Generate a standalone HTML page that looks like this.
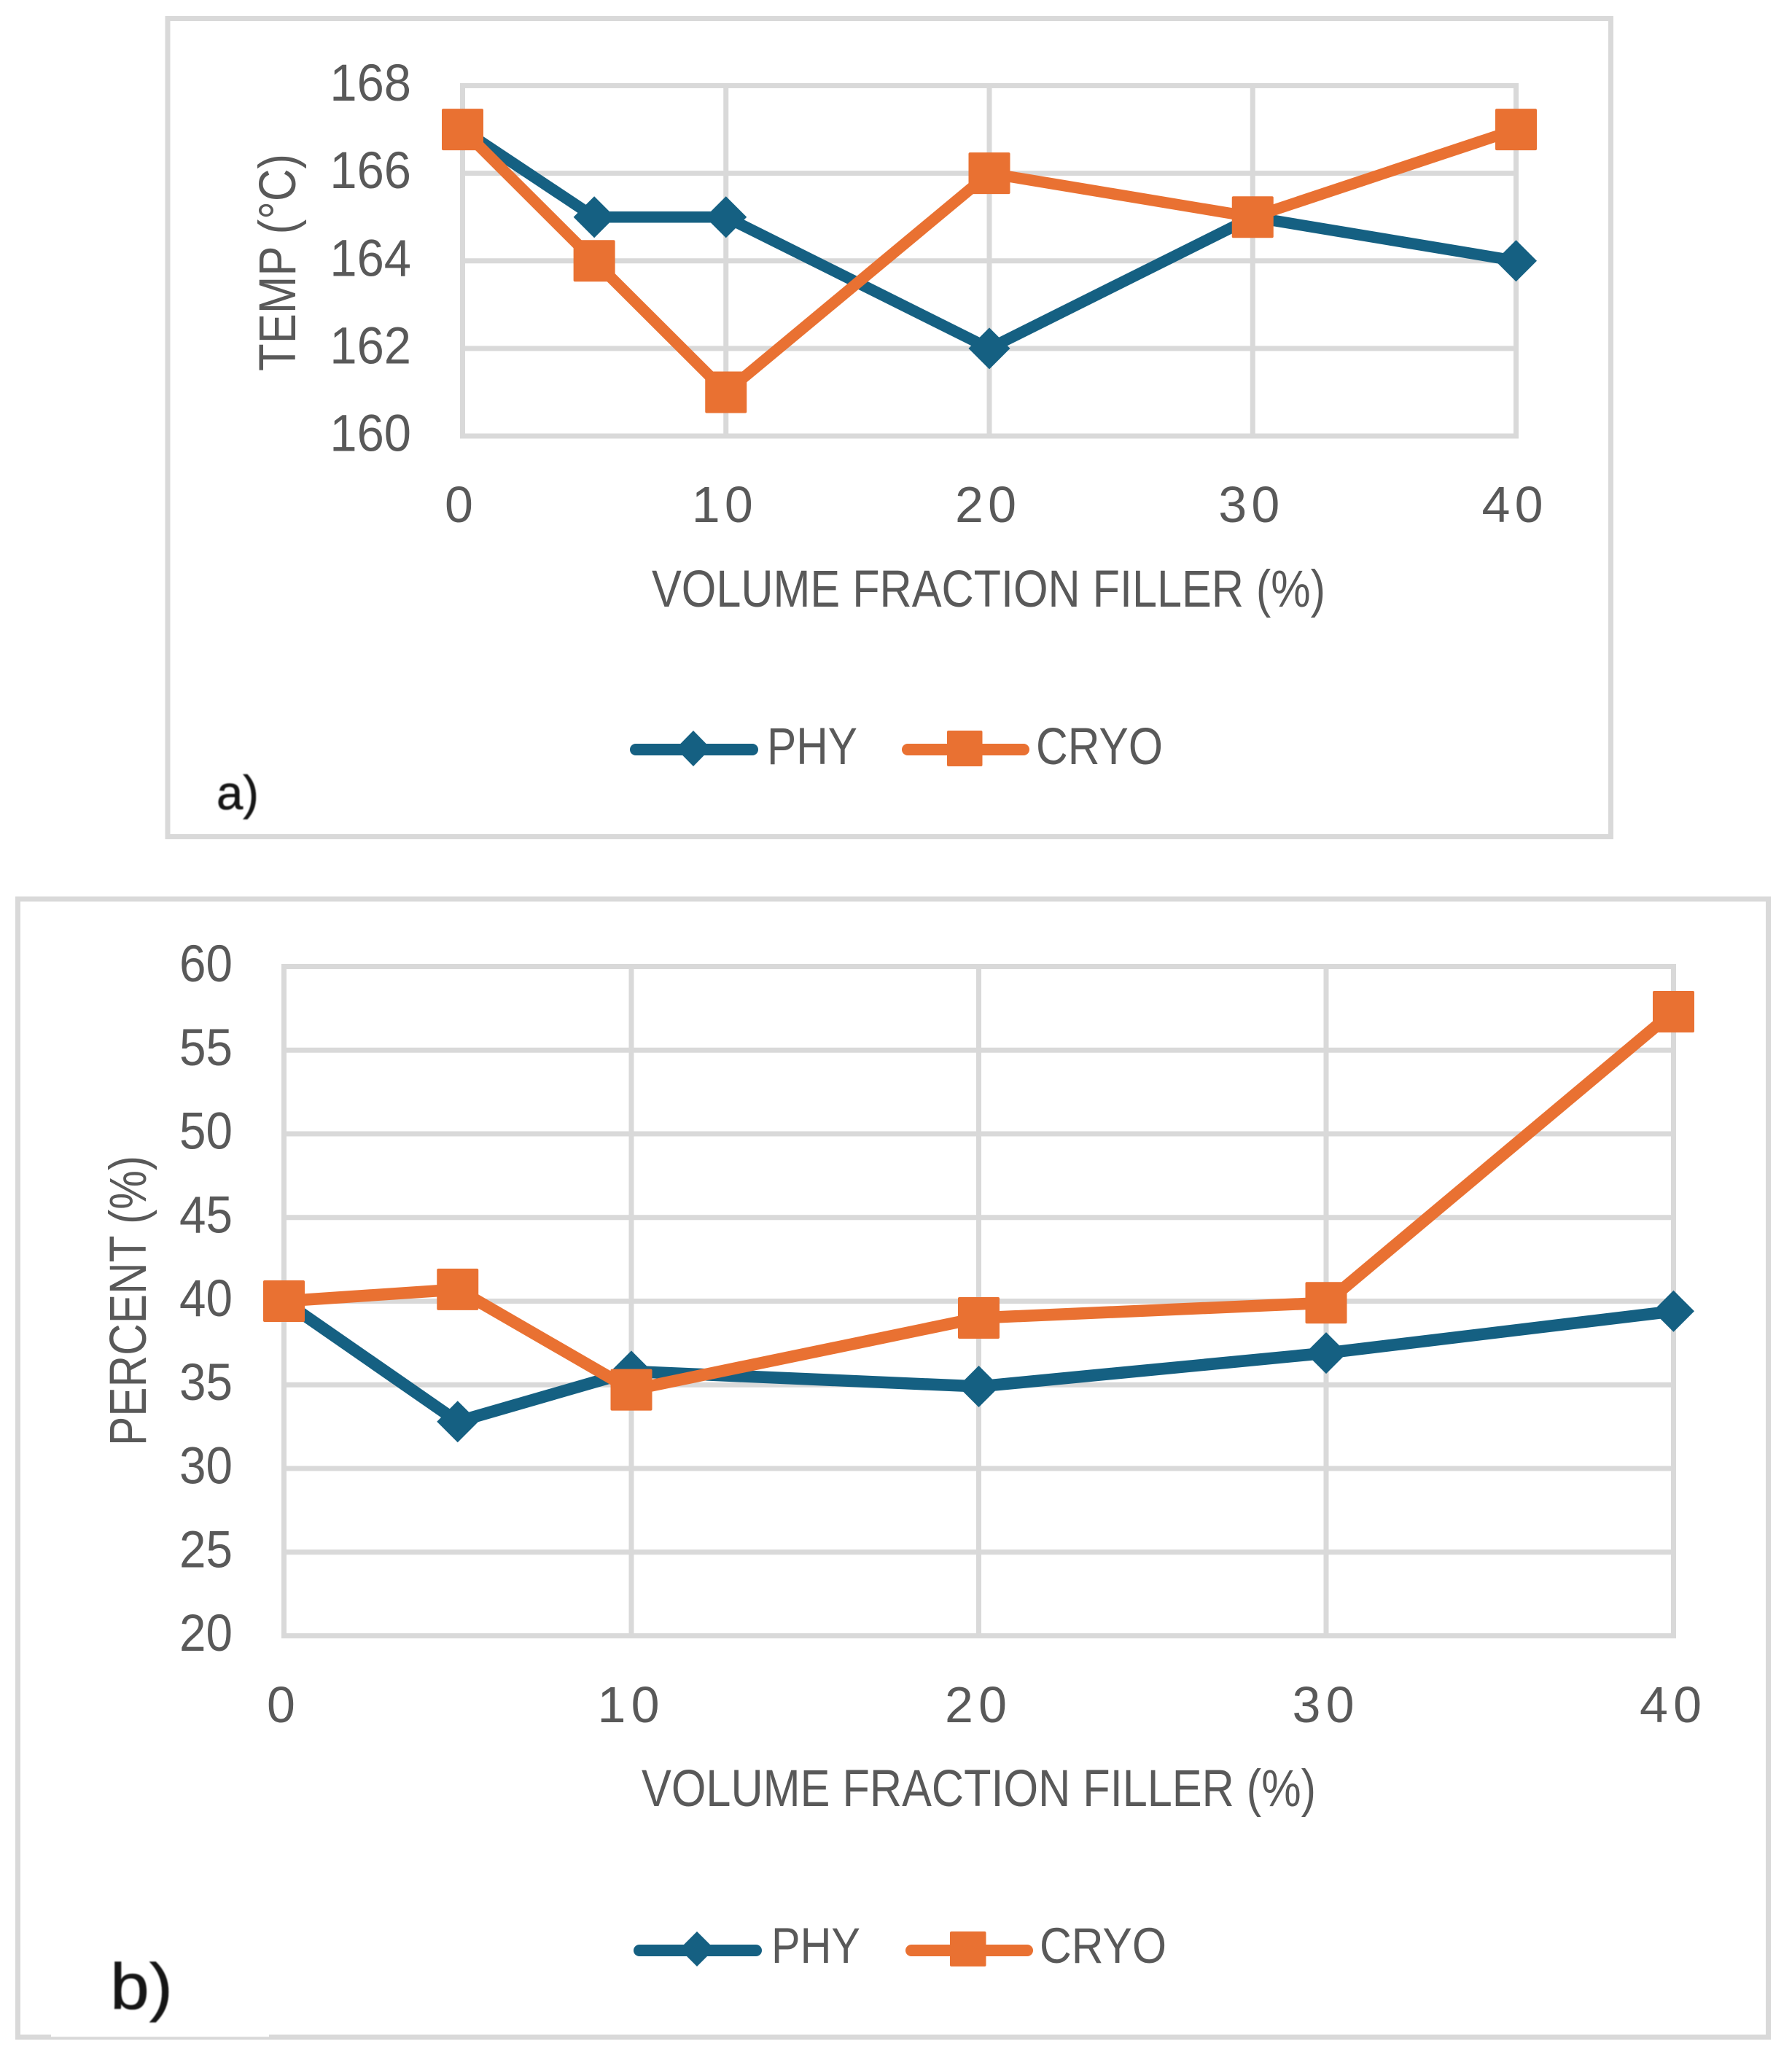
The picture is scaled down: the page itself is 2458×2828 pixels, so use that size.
<!DOCTYPE html>
<html lang="en">
<head>
<meta charset="utf-8">
<title>Temperature and percent versus volume fraction filler</title>
<style>
html,body{margin:0;padding:0;background:#fff}
svg{display:block}
text{font-family:"Liberation Sans",Arial,sans-serif;fill:#595959}
</style>
</head>
<body>
<svg id="figure" xmlns="http://www.w3.org/2000/svg" width="2458" height="2828" viewBox="0 0 2458 2828">
  <defs>
    <filter id="soft" x="-20%" y="-20%" width="140%" height="140%"><feGaussianBlur stdDeviation="0.8"/></filter>
  </defs>
  <rect width="2458" height="2828" fill="#ffffff"/>

  <!-- Panel a -->
  <g id="panel-a">
    <rect x="230" y="25.5" width="1979.5" height="1122" fill="#fff" stroke="#D9D9D9" stroke-width="7"/>
    <g id="plot-a"></g>
    <text transform="translate(405 360) rotate(-90)" text-anchor="middle" font-size="71" textLength="298" lengthAdjust="spacingAndGlyphs">TEMP (°C)</text>
    <text x="894" y="832" font-size="71" textLength="924" lengthAdjust="spacingAndGlyphs">VOLUME FRACTION FILLER (%)</text>
    <g>
      <g>
        <line x1="872" y1="1028" x2="1032" y2="1028" stroke="#156082" stroke-width="16" stroke-linecap="round"/>
        <polygon points="951,1002 975,1026.5 951,1051 927,1026.5" fill="#156082"/>
        <text x="1052" y="1048" font-size="71" textLength="124" lengthAdjust="spacingAndGlyphs">PHY</text>
      </g>
      <g>
        <line x1="1245" y1="1028" x2="1404" y2="1028" stroke="#E97132" stroke-width="16" stroke-linecap="round"/>
        <rect x="1299" y="1002" width="48.500" height="49" rx="2" fill="#E97132"/>
        <text x="1421" y="1048" font-size="71" textLength="174" lengthAdjust="spacingAndGlyphs">CRYO</text>
      </g>
    </g>
    <text x="297" y="1110" font-size="66" textLength="58" lengthAdjust="spacingAndGlyphs" style="fill:#151515;stroke:#151515;stroke-width:0.6" filter="url(#soft)">a)</text>
  </g>

  <!-- Panel b -->
  <g id="panel-b">
    <rect x="24.5" y="1233" width="2401" height="1561" fill="#fff" stroke="#D9D9D9" stroke-width="7"/>
    <rect x="70" y="2740" width="299" height="53.500" fill="#ffffff"/>
    <g id="plot-b"></g>
    <text transform="translate(200 1784) rotate(-90)" text-anchor="middle" font-size="71" textLength="398" lengthAdjust="spacingAndGlyphs">PERCENT (%)</text>
    <text x="880" y="2477" font-size="71" textLength="925" lengthAdjust="spacingAndGlyphs">VOLUME FRACTION FILLER (%)</text>
    <g>
      <g>
        <line x1="877" y1="2675" x2="1037" y2="2675" stroke="#156082" stroke-width="16" stroke-linecap="round"/>
        <polygon points="956,2649 980,2673 956,2697 932,2673" fill="#156082"/>
        <text x="1058" y="2692" font-size="69" textLength="122" lengthAdjust="spacingAndGlyphs">PHY</text>
      </g>
      <g>
        <line x1="1250" y1="2675" x2="1409" y2="2675" stroke="#E97132" stroke-width="16" stroke-linecap="round"/>
        <rect x="1303" y="2649" width="49.500" height="48" rx="2" fill="#E97132"/>
        <text x="1426" y="2692" font-size="69" textLength="174" lengthAdjust="spacingAndGlyphs">CRYO</text>
      </g>
    </g>
    <text x="151" y="2755" font-size="89" textLength="86" lengthAdjust="spacingAndGlyphs" style="fill:#151515;stroke:#151515;stroke-width:0.6" filter="url(#soft)">b)</text>
  </g>
</svg>

<script>
// Shared category data
const fillerFractions = [0, 5, 10, 20, 30, 40];
const xTickLabels = [0, 10, 20, 30, 40];

// Panel a values
const tempTickLabels = [160, 162, 164, 166, 168];
const tempPhy = [167, 165, 165, 162, 165, 164];
const tempCryo = [167, 164, 161, 166, 165, 167];

// Panel b values
const percentTickLabels = [20, 25, 30, 35, 40, 45, 50, 55, 60];
const percentPhy = [40, 32.8, 35.8, 34.9, 36.9, 39.4];
const percentCryo = [40, 40.7, 34.7, 39, 39.9, 57.3];

const SVG_NS = 'http://www.w3.org/2000/svg';
const GRID = '#D9D9D9';
const PHY_COLOR = '#156082';
const CRYO_COLOR = '#E97132';

function make(tag, attrs, parent) {
  const el = document.createElementNS(SVG_NS, tag);
  for (const k in attrs) el.setAttribute(k, attrs[k]);
  parent.appendChild(el);
  return el;
}

function drawPlot(parent, suffix, box, xTicks, yTicks, phy, cryo) {
  const xMin = xTicks[0];
  const xMax = xTicks[xTicks.length - 1];
  const yMin = yTicks[0];
  const yMax = yTicks[yTicks.length - 1];
  const xScale = function (v) { return box.left + (v - xMin) / (xMax - xMin) * (box.right - box.left); };
  const yScale = function (v) { return box.bottom - (v - yMin) / (yMax - yMin) * (box.bottom - box.top); };

  yTicks.forEach(function (t) {
    const grid = make('line', { x1: box.left, x2: box.right, y1: yScale(t), y2: yScale(t), stroke: GRID, 'stroke-width': 7, 'stroke-linecap': 'square' }, parent);
    
    
    const label = make('text', { x: box.yLabelRight, y: yScale(t) + 20.5, 'text-anchor': 'end', 'font-size': 71, textLength: String(t).length * box.digitWidth, lengthAdjust: 'spacingAndGlyphs' }, parent);
    
    
    label.textContent = t;
  });

  xTicks.forEach(function (t) {
    const grid = make('line', { x1: xScale(t), x2: xScale(t), y1: box.top, y2: box.bottom, stroke: GRID, 'stroke-width': 7, 'stroke-linecap': 'square' }, parent);
    
    
    const attrs = { x: xScale(t) + box.xLabelShift, y: box.xLabelBaseline, 'text-anchor': 'middle', 'font-size': 70 };
    if (String(t).length > 1) {
      attrs.textLength = box.xLabelWidth;
      attrs.lengthAdjust = 'spacing';
    }
    const label = make('text', attrs, parent);
    
    
    label.textContent = t;
  });

  const points = function (values) {
    return values.map(function (v, i) { return xScale(fillerFractions[i]) + ',' + yScale(v); }).join(' ');
  };

  const phyLine = make('polyline', { points: points(phy), fill: 'none', stroke: PHY_COLOR, 'stroke-width': box.lineWidth, 'stroke-linejoin': 'round' }, parent);
  
  

  phy.forEach(function (v, i) {
    const cx = xScale(fillerFractions[i]);
    const cy = yScale(v);
    const r = box.marker;
    const d = make('polygon', { points: cx + ',' + (cy - r) + ' ' + (cx + r) + ',' + cy + ' ' + cx + ',' + (cy + r) + ' ' + (cx - r) + ',' + cy, fill: PHY_COLOR }, parent);
    
    
  });

  const cryoLine = make('polyline', { points: points(cryo), fill: 'none', stroke: CRYO_COLOR, 'stroke-width': box.lineWidth, 'stroke-linejoin': 'round' }, parent);
  
  

  cryo.forEach(function (v, i) {
    const cx = xScale(fillerFractions[i]);
    const cy = yScale(v);
    const r = box.marker;
    const s = make('rect', { x: cx - r, y: cy - r, width: 2 * r, height: 2 * r, rx: 2, fill: CRYO_COLOR }, parent);
    
    
  });
}

drawPlot(document.getElementById('plot-a'), 'a',
  { left: 634.5, right: 2079.5, top: 117.5, bottom: 598, marker: 28.5, lineWidth: 15.5, yLabelRight: 564, digitWidth: 37.2, xLabelShift: -5, xLabelBaseline: 716, xLabelWidth: 84 },
  xTickLabels, tempTickLabels, tempPhy, tempCryo);

drawPlot(document.getElementById('plot-b'), 'b',
  { left: 389.5, right: 2295.5, top: 1325.5, bottom: 2243.5, marker: 28.5, lineWidth: 16.5, yLabelRight: 319, digitWidth: 36.5, xLabelShift: -4, xLabelBaseline: 2362, xLabelWidth: 85 },
  xTickLabels, percentTickLabels, percentPhy, percentCryo);
</script>
</body>
</html>
